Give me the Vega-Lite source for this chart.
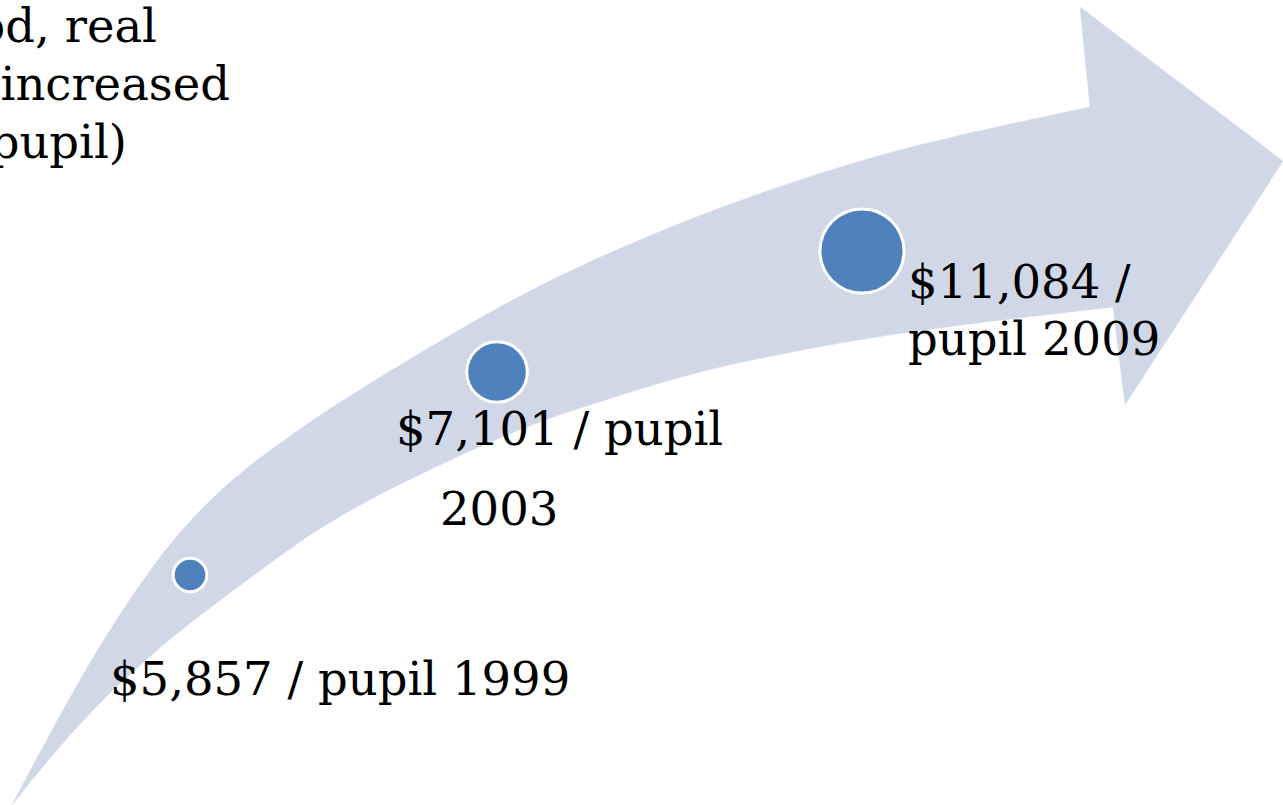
{
  "$schema": "https://vega.github.io/schema/vega-lite/v6.json",
  "autosize": {"type": "fit", "contains": "padding"},
  "width": 1283,
  "height": 805,
  "padding": 0,
  "background": "#ffffff",
  "config": {"view": {"stroke": null}},
  "datasets": {
    "arrow": [
      {"i": 1, "x": 12, "y": 805},
      {"i": 2, "x": 12, "y": 805},
      {"i": 3, "x": 12, "y": 805},
      {"i": 4, "x": 50, "y": 733},
      {"i": 5, "x": 100, "y": 644},
      {"i": 6, "x": 150, "y": 569},
      {"i": 7, "x": 183, "y": 528},
      {"i": 8, "x": 217, "y": 493},
      {"i": 9, "x": 250, "y": 465},
      {"i": 10, "x": 283, "y": 441},
      {"i": 11, "x": 330, "y": 408},
      {"i": 12, "x": 380, "y": 377},
      {"i": 13, "x": 430, "y": 347},
      {"i": 14, "x": 500, "y": 306},
      {"i": 15, "x": 567, "y": 272},
      {"i": 16, "x": 627, "y": 245},
      {"i": 17, "x": 693, "y": 218},
      {"i": 18, "x": 760, "y": 193},
      {"i": 19, "x": 827, "y": 171},
      {"i": 20, "x": 900, "y": 149},
      {"i": 21, "x": 1000, "y": 126},
      {"i": 22, "x": 1090, "y": 107},
      {"i": 23, "x": 1090, "y": 107},
      {"i": 24, "x": 1090, "y": 107},
      {"i": 25, "x": 1080, "y": 7},
      {"i": 26, "x": 1080, "y": 7},
      {"i": 27, "x": 1080, "y": 7},
      {"i": 28, "x": 1283, "y": 161},
      {"i": 29, "x": 1283, "y": 161},
      {"i": 30, "x": 1283, "y": 161},
      {"i": 31, "x": 1125, "y": 405},
      {"i": 32, "x": 1125, "y": 405},
      {"i": 33, "x": 1125, "y": 405},
      {"i": 34, "x": 1113, "y": 307},
      {"i": 35, "x": 1113, "y": 307},
      {"i": 36, "x": 1113, "y": 307},
      {"i": 37, "x": 1000, "y": 320},
      {"i": 38, "x": 900, "y": 333},
      {"i": 39, "x": 827, "y": 345},
      {"i": 40, "x": 760, "y": 358},
      {"i": 41, "x": 693, "y": 373},
      {"i": 42, "x": 627, "y": 393},
      {"i": 43, "x": 560, "y": 414},
      {"i": 44, "x": 500, "y": 437},
      {"i": 45, "x": 433, "y": 468},
      {"i": 46, "x": 380, "y": 494},
      {"i": 47, "x": 340, "y": 516},
      {"i": 48, "x": 300, "y": 541},
      {"i": 49, "x": 250, "y": 578},
      {"i": 50, "x": 200, "y": 615},
      {"i": 51, "x": 160, "y": 647},
      {"i": 52, "x": 125, "y": 679},
      {"i": 53, "x": 100, "y": 702},
      {"i": 54, "x": 50, "y": 757}
    ],
    "points": [
      {"year": "1999", "spending": 5857, "x": 190, "y": 575},
      {"year": "2003", "spending": 7101, "x": 497, "y": 372},
      {"year": "2009", "spending": 11084, "x": 862, "y": 251}
    ],
    "labels": [
      {"text": "$5,857 / pupil 1999", "x": 110, "y": 695},
      {"text": "$7,101 / pupil", "x": 396, "y": 445},
      {"text": "2003", "x": 440, "y": 525},
      {"text": "$11,084 /", "x": 908, "y": 298},
      {"text": "pupil 2009", "x": 908, "y": 355}
    ],
    "intro": [
      {"text": "od, real", "x": 157, "y": 42},
      {"text": "g increased", "x": 230, "y": 100},
      {"text": "pupil)", "x": 127, "y": 158}
    ]
  },
  "encoding": {
    "x": {"field": "x", "type": "quantitative", "scale": {"domain": [0, 1283], "nice": false, "zero": false}, "axis": null},
    "y": {"field": "y", "type": "quantitative", "scale": {"domain": [0, 805], "nice": false, "zero": false, "reverse": true}, "axis": null}
  },
  "layer": [
    {
      "data": {"name": "arrow"},
      "mark": {"type": "line", "interpolate": "basis-closed", "fill": "#d0d8e8", "stroke": "#d0d8e8", "strokeWidth": 0.5, "clip": true},
      "encoding": {"order": {"field": "i", "type": "quantitative"}}
    },
    {
      "data": {"name": "points"},
      "mark": {"type": "circle", "opacity": 1, "stroke": "#ffffff", "strokeWidth": 3, "fill": "#4f81bd"},
      "encoding": {
        "size": {"field": "spending", "type": "quantitative", "scale": {"type": "linear", "domain": [5857, 7101, 11084], "range": [1129, 3672, 7056], "zero": false, "nice": false}, "legend": null},
        "tooltip": {"field": "spending", "type": "quantitative"}
      }
    },
    {
      "data": {"name": "labels"},
      "mark": {"type": "text", "align": "left", "baseline": "alphabetic", "font": "DejaVu Serif", "fontSize": 46.5, "color": "#000000"},
      "encoding": {"text": {"field": "text"}}
    },
    {
      "data": {"name": "intro"},
      "mark": {"type": "text", "align": "right", "baseline": "alphabetic", "font": "DejaVu Serif", "fontSize": 46.5, "color": "#000000", "clip": true},
      "encoding": {"text": {"field": "text"}}
    }
  ]
}
